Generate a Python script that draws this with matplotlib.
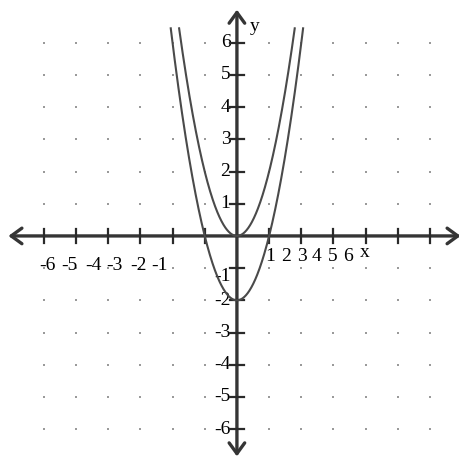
import matplotlib.pyplot as plt
import numpy as np

# parabolas y = a*x^2 + c
coef_a = [2.0, 2.0]
coef_c = [0.0, -2.0]
y_top = 6.45

grid_vals = list(range(-6, 7))
tick_vals = [-6, -5, -4, -3, -2, -1, 1, 2, 3, 4, 5, 6]

xlab_left = ['-6', '-5', '-4', '-3', '-2', '-1']
xlab_left_pos = [-5.9, -5.19, -4.47, -3.79, -3.07, -2.39]
xlab_right = ['1', '2', '3', '4', '5', '6']
xlab_right_pos = [1.02, 1.52, 2.02, 2.48, 2.98, 3.45]
ylab = ['6', '5', '4', '3', '2', '1', '-1', '-2', '-3', '-4', '-5', '-6']
ylab_pos = [6, 5, 4, 3, 2, 1, -1.27, -2, -3, -4, -5, -6]

plt.rcParams['font.family'] = ['Liberation Serif', 'DejaVu Serif']

fig = plt.figure(figsize=(4.6, 4.59), dpi=100)
ax = fig.add_axes([0, 0, 1, 1])
ax.set_xlim(-7.36, 6.93)
ax.set_ylim(-6.93, 7.33)
ax.axis('off')

# dot grid
gx, gy = np.meshgrid(grid_vals, grid_vals)
mask = (gx != 0) & (gy != 0)
ax.scatter(gx[mask], gy[mask], s=3, color='#9a9a9a', marker='s', linewidths=0, zorder=1)

# axes with arrows
arrow = dict(arrowstyle='<->,head_length=0.55,head_width=0.4', lw=2.4,
             color='#353535', mutation_scale=14, shrinkA=0, shrinkB=0)
ax.annotate('', xy=(-7.1, 0), xytext=(6.95, 0), arrowprops=arrow, zorder=3)
ax.annotate('', xy=(0, 7.03), xytext=(0, -6.85), arrowprops=arrow, zorder=3)

# tick marks
tl = 0.22
for t in tick_vals:
    ax.plot([t, t], [-tl, tl], color='#2a2a2a', lw=1.6, zorder=4)
    ax.plot([-tl, tl], [t, t], color='#2a2a2a', lw=1.6, zorder=4)

# curves
for a, c in zip(coef_a, coef_c):
    xm = np.sqrt((y_top - c) / a)
    xs = np.linspace(-xm, xm, 400)
    ax.plot(xs, a * xs ** 2 + c, color='#4a4a4a', lw=1.5, zorder=5)

fs = 14
for s, p in zip(xlab_left, xlab_left_pos):
    ax.text(p, -0.93, s, ha='center', va='center', fontsize=fs)
for s, p in zip(xlab_right, xlab_right_pos):
    ax.text(p, -0.65, s, ha='center', va='center', fontsize=fs)
for s, p in zip(ylab, ylab_pos):
    ax.text(-0.2, p, s, ha='right', va='center', fontsize=fs)
ax.text(3.98, -0.5, 'x', ha='center', va='center', fontsize=fs)
ax.text(0.56, 6.5, 'y', ha='center', va='center', fontsize=fs)

fig.savefig('out.png', dpi=100)
